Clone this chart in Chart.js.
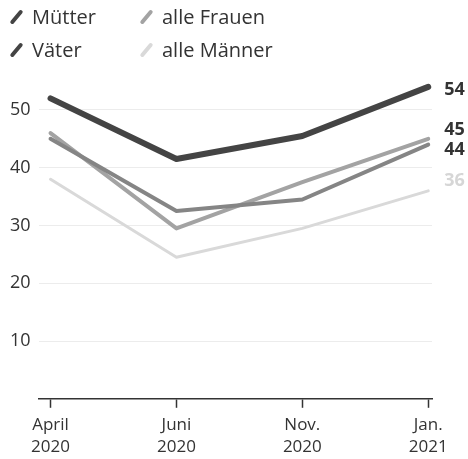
<!DOCTYPE html>
<html>
<head>
<meta charset="utf-8">
<script src="https://cdn.jsdelivr.net/npm/chart.js@4"></script>
<style>
  body { margin: 0; background: #fff; font-family: "Open Sans", sans-serif; }
  #wrap { position: relative; width: 468px; height: 459px; }
  #legend { position: absolute; left: 0; top: 0; width: 468px; height: 70px; }
  .item { position: absolute; font-size: 20px; color: #333; line-height: 22px; }
  .icon { position: absolute; left: -24px; top: 9px; width: 17px; height: 4px; border-radius: 2px; transform: rotate(-50deg); }
</style>
</head>
<body>
<div id="wrap">
  <div id="legend"></div>
  <canvas id="chart" width="468" height="459"></canvas>
</div>
<script>
var categories = [["April", "2020"], ["Juni", "2020"], ["Nov.", "2020"], ["Jan.", "2021"]];
var seriesNames = ["Mütter", "Väter", "alle Frauen", "alle Männer"];
var muetter = [52, 41.5, 45.5, 54];
var vaeter = [45, 32.5, 34.5, 44];
var frauen = [46, 29.5, 37.5, 45];
var maenner = [38, 24.5, 29.5, 36];
var yTicks = [10, 20, 30, 40, 50];

var colors = ["#444444", "#858585", "#a3a3a3", "#d9d9d9"];
var widths = [6, 4, 4, 3];
var labelColors = ["#333", "#333", "#333", "#d6d6d6"];
var labelShift = [3, 5, -9, -10];
var values = [muetter, vaeter, frauen, maenner];

// legend in two columns
var legendPos = [[32, 6], [32, 39], [162, 6], [162, 39]];
var legend = document.getElementById('legend');
for (var i = 0; i < seriesNames.length; i++) {
    var d = document.createElement('div');
    d.className = 'item';
    d.style.left = legendPos[i][0] + 'px';
    d.style.top = legendPos[i][1] + 'px';
    d.textContent = seriesNames[i];
    var ic = document.createElement('span');
    ic.className = 'icon';
    ic.style.background = i < 2 ? '#444' : colors[i];
    d.appendChild(ic);
    legend.appendChild(d);
}

var datasets = [];
for (i = 0; i < values.length; i++) {
    datasets.push({
        label: seriesNames[i],
        data: values[i].map(function (v, k) { return {x: k, y: v}; }),
        borderColor: colors[i],
        borderWidth: widths[i],
        pointRadius: 0,
        tension: 0,
        borderCapStyle: 'round',
        borderJoinStyle: 'round',
        clip: false
    });
}

var endLabels = {
    id: 'endLabels',
    afterDatasetsDraw: function (chart) {
        var ctx = chart.ctx;
        ctx.save();
        ctx.font = 'bold 18px "Open Sans"';
        ctx.textBaseline = 'middle';
        chart.data.datasets.forEach(function (ds, i) {
            var meta = chart.getDatasetMeta(i);
            var p = meta.data[meta.data.length - 1];
            ctx.fillStyle = labelColors[i];
            ctx.fillText(String(values[i][values[i].length - 1]), p.x + 16, p.y + labelShift[i]);
        });
        ctx.restore();
    }
};

new Chart(document.getElementById('chart'), {
    type: 'line',
    data: { datasets: datasets },
    plugins: [endLabels],
    options: {
        responsive: false,
        animation: false,
        layout: { padding: { top: 62, left: 2, right: 36, bottom: -5 } },
        plugins: { legend: { display: false }, tooltip: { enabled: false } },
        scales: {
            x: {
                type: 'linear',
                min: -0.095,
                max: 3.03,
                afterBuildTicks: function (axis) {
                    axis.ticks = categories.map(function (c, k) { return {value: k}; });
                },
                ticks: {
                    color: '#333',
                    font: { family: 'Open Sans', size: 17, lineHeight: 1.3 },
                    padding: 6,
                    maxRotation: 0,
                    callback: function (v) { return categories[v]; }
                },
                grid: { drawOnChartArea: false, drawTicks: true, tickLength: 9, tickColor: '#333', tickWidth: 1.5 },
                border: { color: '#333', width: 1.5 }
            },
            y: {
                min: 0,
                max: 58.3,
                afterBuildTicks: function (axis) {
                    axis.ticks = [0].concat(yTicks).map(function (v) { return {value: v}; });
                },
                ticks: {
                    color: '#333',
                    font: { family: 'Open Sans', size: 18 },
                    padding: 8,
                    callback: function (v) { return v === 0 ? '' : v; }
                },
                grid: { color: '#ececec', drawTicks: false },
                border: { display: false }
            }
        }
    }
});
</script>
</body>
</html>
